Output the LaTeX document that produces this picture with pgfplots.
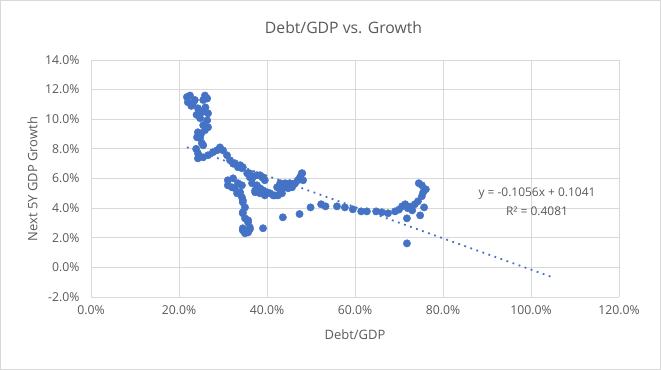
\documentclass[border=0pt]{standalone}
\usepackage{pgfplots}
\pgfplotsset{compat=1.18}
\usepackage{fontspec}
\setmainfont{Open Sans}
\definecolor{excelblue}{HTML}{4472C4}
\definecolor{gridgray}{HTML}{D9D9D9}
\definecolor{textgray}{HTML}{595959}
\begin{document}
\begin{tikzpicture}
\path[use as bounding box] (0,0) rectangle (661bp,370bp);
\draw[gridgray, line width=0.8bp] (0.5bp,0.5bp) rectangle (660.5bp,369.5bp);
\begin{axis}[
  at={(91bp,73bp)}, anchor=south west,
  scale only axis, width=528bp, height=237bp,
  xmin=0, xmax=120, ymin=-2, ymax=14,
  xtick={0,20,40,60,80,100,120}, ytick={-2,0,2,4,6,8,10,12,14},
  grid=major, major grid style={gridgray, line width=0.8bp},
  axis line style={draw=none},
  major tick length=0pt,
  tick label style={font=\fontsize{12.3}{14}\selectfont, text=textgray},
  /pgf/number format/assume math mode=true,
  xticklabel={\pgfmathprintnumber[fixed,fixed zerofill,precision=1]{\tick}\%},
  yticklabel={\pgfmathprintnumber[fixed,fixed zerofill,precision=1]{\tick}\%},
  xticklabel style={yshift=-5bp},
  yticklabel style={xshift=-8bp},
  clip=false,
]
\addplot[only marks, mark=*, mark size=3.7bp, mark options={fill=excelblue, draw=excelblue}] table {
x y
21.8 11.5
22.5 11.6
22.0 11.15
23.2 11.1
23.6 11.3
22.8 10.9
25.9 11.6
25.5 11.3
26.4 11.4
26.0 10.8
24.3 10.74
24.0 10.3
25.2 10.47
26.6 10.4
24.8 10.07
26.4 9.93
25.5 9.6
26.6 9.46
25.9 9.26
25.0 9.0
24.3 9.12
24.1 8.78
24.8 8.72
25.2 8.38
25.5 8.24
23.9 8.0
24.3 7.7
24.3 7.36
24.6 7.5
25.5 7.43
26.6 7.57
27.7 7.77
28.6 7.9
29.3 8.1
30.0 7.9
30.9 7.57
31.6 7.23
32.3 7.0
32.7 7.03
33.4 6.76
33.9 6.9
34.3 6.69
34.5 6.76
35.5 6.35
36.1 6.35
36.1 6.08
36.8 6.08
37.7 6.22
38.4 6.22
38.9 6.08
39.1 6.08
39.5 5.88
31.1 5.88
32.3 6.01
33.4 5.68
31.1 5.54
32.0 5.41
32.7 5.34
34.3 5.54
33.2 5.0
33.9 5.07
34.3 4.73
34.5 4.39
34.5 4.53
35.0 4.05
34.5 3.72
34.5 3.65
35.0 3.31
35.7 3.18
35.7 3.04
36.1 2.70
34.5 2.5
35.0 2.3
35.7 2.36
34.5 2.64
36.1 2.57
36.6 5.68
37.3 5.07
37.7 5.54
38.4 5.34
37.3 5.2
38.4 5.0
39.1 5.2
39.5 4.86
40.0 5.07
40.7 5.0
41.4 4.86
41.8 4.86
42.5 4.86
43.0 5.2
43.4 5.0
42.3 5.41
43.0 5.68
44.1 5.68
44.1 5.41
44.8 5.34
45.2 5.68
45.7 5.41
46.4 5.68
47.0 5.88
47.5 6.08
47.9 6.35
48.0 6.35
48.2 5.88
39.1 2.64
43.6 3.38
47.4 3.6
49.9 4.05
52.3 4.26
53.3 4.12
55.9 4.12
57.7 4.05
59.5 3.92
61.4 3.78
62.7 3.78
64.8 3.78
66.1 3.72
67.5 3.65
69.1 3.78
70.0 3.9
70.7 4.12
71.4 4.26
72.0 3.99
72.5 4.1
73.0 3.85
71.8 3.31
71.8 1.62
73.6 4.26
74.3 4.46
75.2 4.80
75.5 5.07
76.1 5.27
74.5 5.68
75.2 5.54
75.7 4.05
74.8 3.51
};
\addplot[excelblue, line width=1.8bp, dash pattern=on 1.8bp off 4.6bp] coordinates {(21.8,8.108) (105,-0.678)};
\end{axis}
\node[text=textgray, font=\fontsize{15.8}{19}\selectfont] at (343.5bp,342bp) {Debt/GDP vs. Growth};
\node[text=textgray, font=\fontsize{13}{15}\selectfont] at (355bp,35bp) {Debt/GDP};
\node[text=textgray, font=\fontsize{13}{15}\selectfont, rotate=90] at (32.5bp,191bp) {Next 5Y GDP Growth};
\node[text=textgray, font=\fontsize{12}{14}\selectfont] at (537bp,176bp) {y = -0.1056x + 0.1041};
\node[text=textgray, font=\fontsize{12}{14}\selectfont] at (537bp,159bp) {R² = 0.4081};
\end{tikzpicture}
\end{document}
